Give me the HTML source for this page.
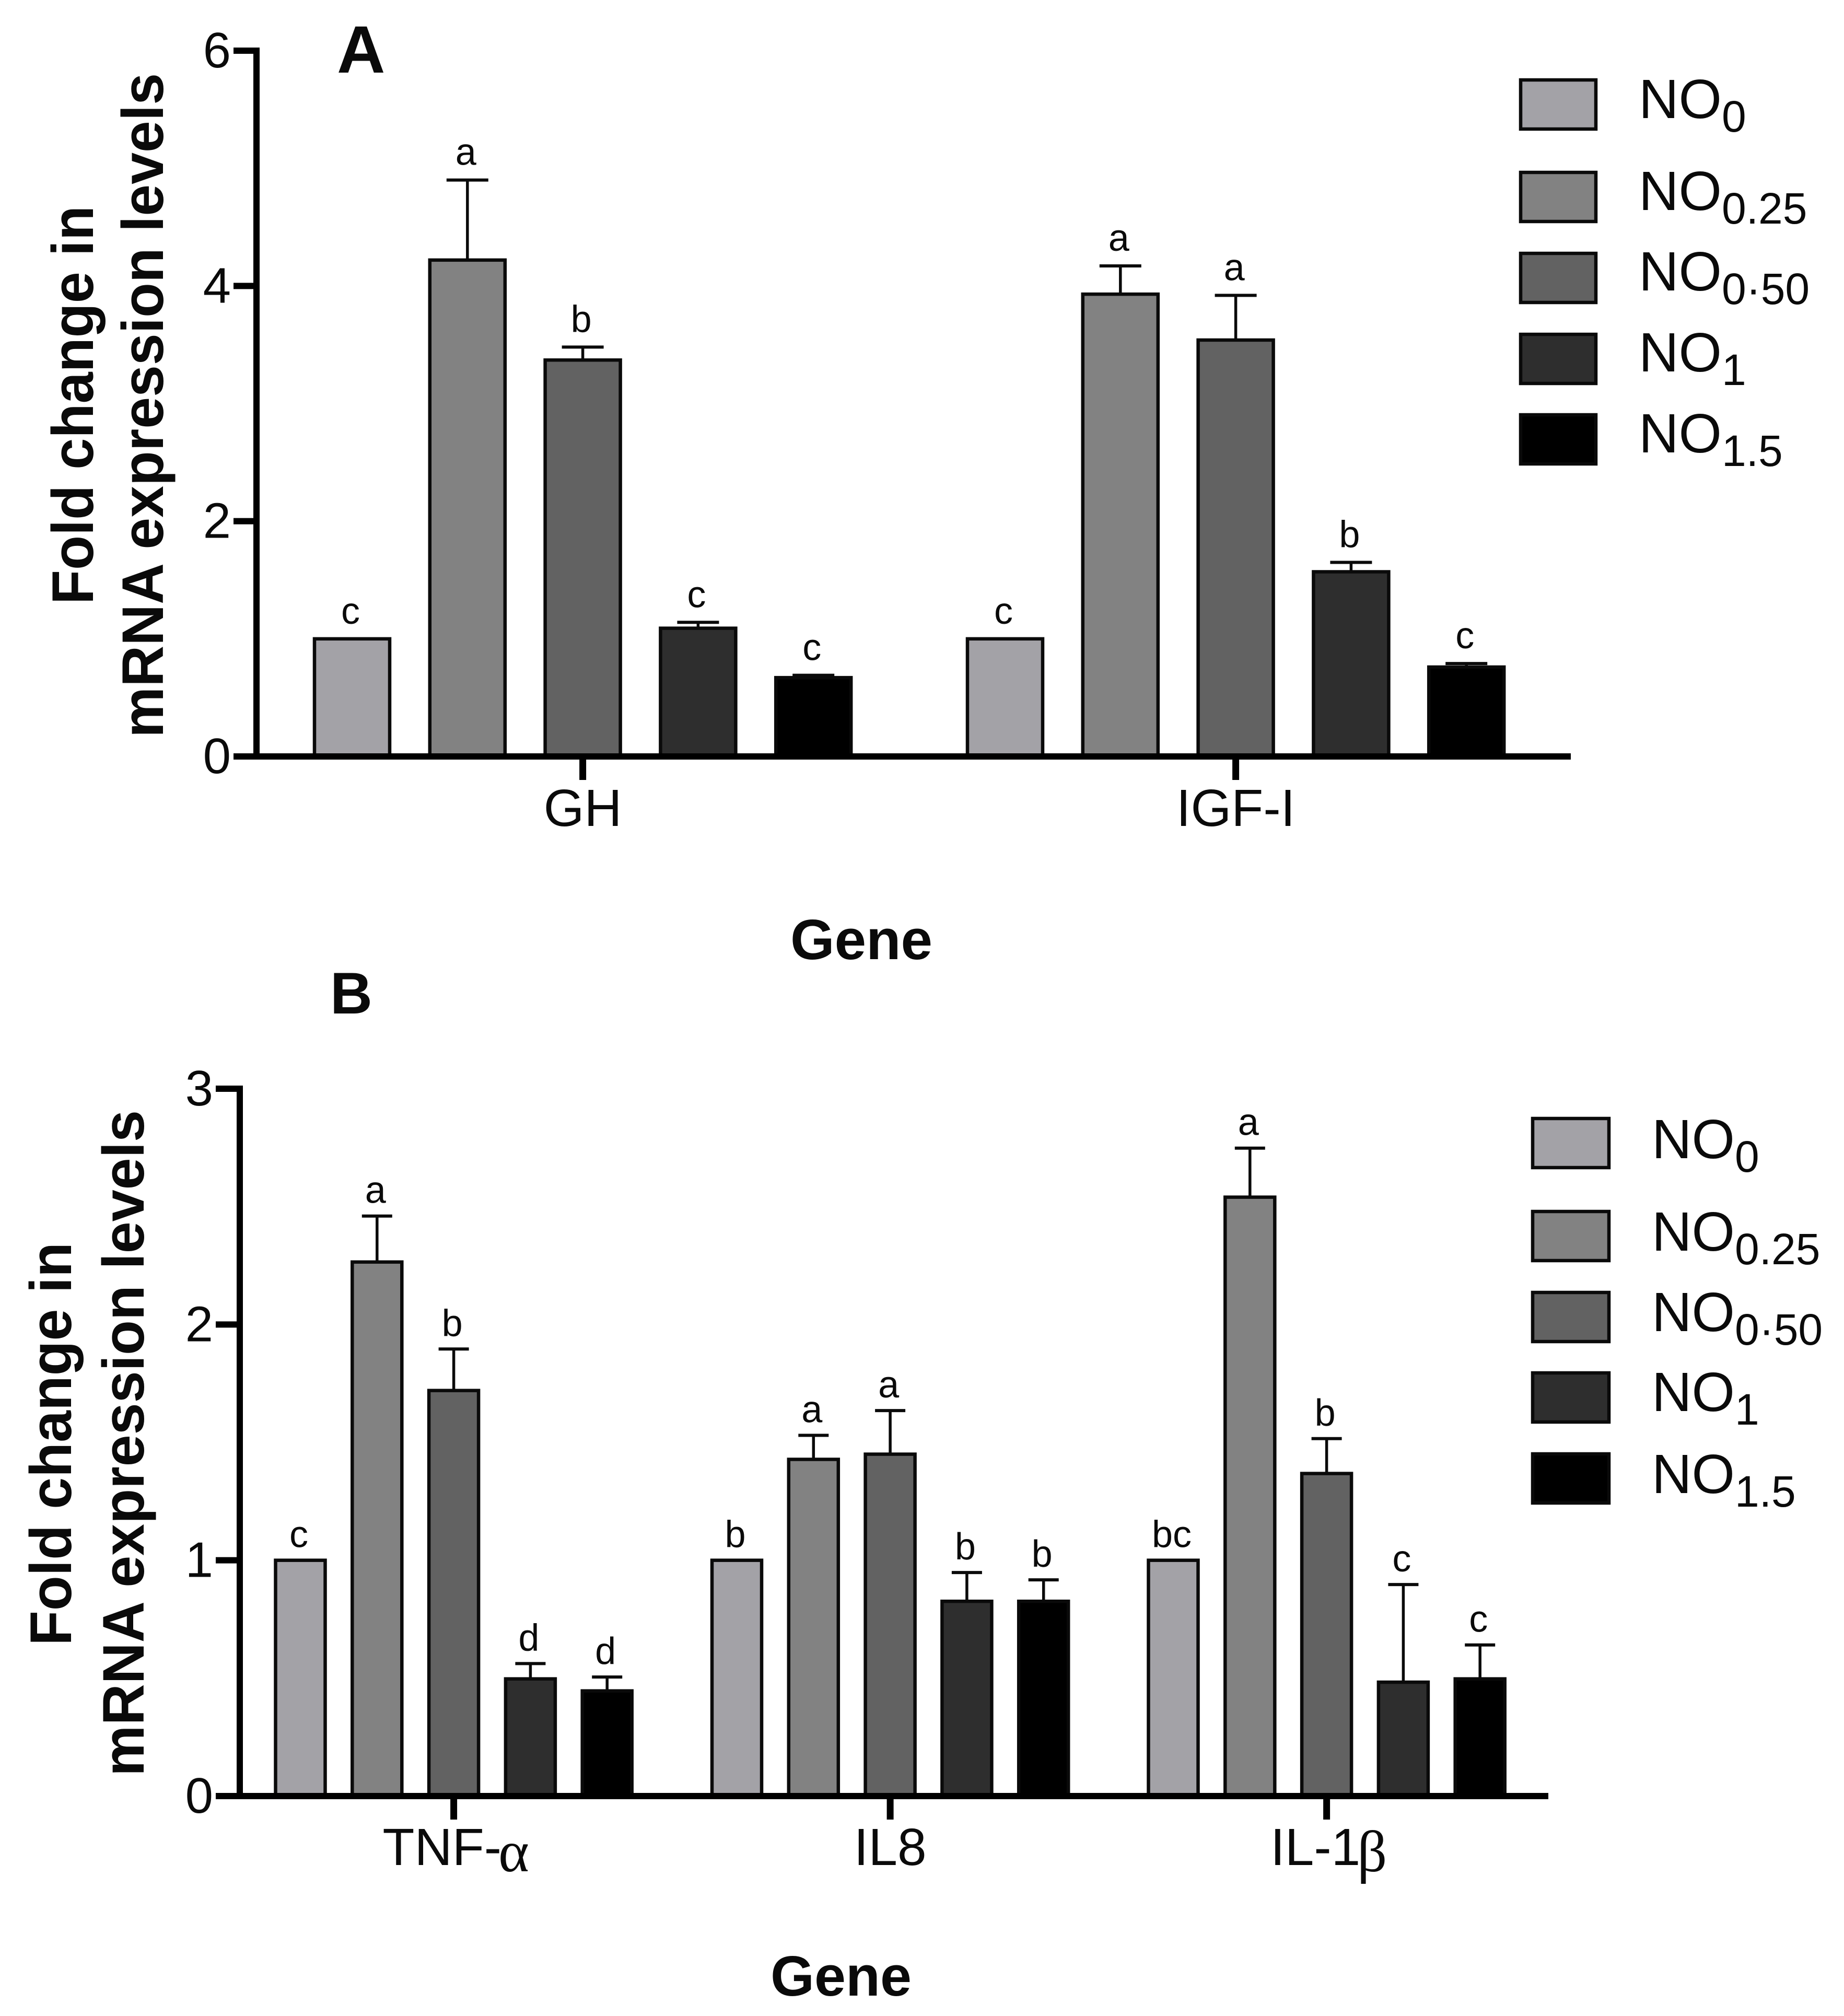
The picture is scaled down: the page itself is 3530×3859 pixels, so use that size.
<!DOCTYPE html>
<html lang="en">
<head>
<meta charset="utf-8">
<title>Fold change in mRNA expression levels</title>
<style>
html,body{margin:0;padding:0;background:#fff;width:3530px;height:3859px;overflow:hidden}
svg{display:block}
text{font-family:"Liberation Sans",Arial,sans-serif;fill:#0a0a0a}
</style>
</head>
<body>
<svg id="chart" xmlns="http://www.w3.org/2000/svg" width="3530" height="3859" viewBox="0 0 3530 3859">
  <rect width="3530" height="3859" fill="#fff"/>
  <text x="645" y="139" font-size="128" font-weight="700">A</text>
  <text x="632" y="1940" font-size="112" font-weight="700">B</text>
  <text transform="translate(178 1157) rotate(-90)" font-size="112" font-weight="700" textLength="763" lengthAdjust="spacingAndGlyphs">Fold change in</text>
  <text transform="translate(312 1412) rotate(-90)" font-size="112" font-weight="700" textLength="1272" lengthAdjust="spacingAndGlyphs">mRNA expression levels</text>
  <text transform="translate(136 3150) rotate(-90)" font-size="112" font-weight="700" textLength="772" lengthAdjust="spacingAndGlyphs">Fold change in</text>
  <text transform="translate(275 3400) rotate(-90)" font-size="112" font-weight="700" textLength="1275" lengthAdjust="spacingAndGlyphs">mRNA expression levels</text>
  <text x="1513" y="1836" font-size="109" font-weight="700" textLength="272" lengthAdjust="spacingAndGlyphs">Gene</text>
  <text x="1475" y="3820" font-size="109" font-weight="700" textLength="270" lengthAdjust="spacingAndGlyphs">Gene</text>
  <g id="plots"></g>
</svg>
<script>
// Shared series
const seriesFills = ['#a3a2a7', '#828282', '#626262', '#2e2e2e', '#000000'];
const seriesSubs = ['0', '0.25', '0·50', '1', '1.5'];

// Panel A data
const categoriesA = ['GH', 'IGF-I'];
const meansGH = [1, 4.22, 3.37, 1.09, 0.67];
const errorsGH = [0, 0.68, 0.11, 0.05, 0.02];
const lettersGH = ['c', 'a', 'b', 'c', 'c'];
const meansIGF = [1, 3.93, 3.54, 1.57, 0.76];
const errorsIGF = [0, 0.24, 0.38, 0.08, 0.03];
const lettersIGF = ['c', 'a', 'a', 'b', 'c'];
const yTicksA = [0, 2, 4, 6];

// Panel B data
const categoriesB = ['TNF-', 'IL8', 'IL-1'];
const categorySymbolsB = ['α', '', 'β'];
const meansTNF = [1, 2.265, 1.72, 0.497, 0.446];
const errorsTNF = [0, 0.195, 0.176, 0.065, 0.059];
const lettersTNF = ['c', 'a', 'b', 'd', 'd'];
const meansIL8 = [1, 1.428, 1.45, 0.826, 0.826];
const errorsIL8 = [0, 0.102, 0.185, 0.122, 0.091];
const lettersIL8 = ['b', 'a', 'a', 'b', 'b'];
const meansIL1 = [1, 2.54, 1.368, 0.483, 0.497];
const errorsIL1 = [0, 0.208, 0.148, 0.414, 0.144];
const lettersIL1 = ['bc', 'a', 'b', 'c', 'c'];
const yTicksB = [0, 1, 2, 3];

const NS = 'http://www.w3.org/2000/svg';
const root = document.getElementById('plots');

function mk(tag, attrs, parent, txt) {
  const el = document.createElementNS(NS, tag);
  for (const k in attrs) el.setAttribute(k, attrs[k]);
  if (txt !== undefined) el.textContent = txt;
  parent.appendChild(el);
  return el;
}

function drawPanel(p) {
  const g = mk('g', {}, root);
  
  

  const yMax = p.yTicks[p.yTicks.length - 1];
  const yScale = v => p.zeroY - (v / yMax) * (p.zeroY - p.topY);
  const xScale = (c, s) => p.firstX + c * p.groupStep + s * p.barStep;
  const groupX = c => xScale(c, 2);

  // bars, error bars, letters
  p.means.forEach((row, c) => {
    row.forEach((m, s) => {
      const cx = xScale(c, s);
      const top = yScale(m);
      const err = p.errors[c][s];
      if (err > 0) {
        const et = yScale(m + err);
        const stem = mk('line', {x1: cx, x2: cx, y1: top, y2: et, stroke: '#0a0a0a', 'stroke-width': 5.5}, g);
        
        
        const cap = mk('line', {x1: cx - p.capW / 2, x2: cx + p.capW / 2, y1: et, y2: et, stroke: '#0a0a0a', 'stroke-width': 6}, g);
        
        
      }
      const bar = mk('rect', {
        x: cx - p.barW / 2 + 3, y: top,
        width: p.barW - 6, height: p.zeroY - top,
        fill: seriesFills[s], stroke: '#0a0a0a', 'stroke-width': 6.5
      }, g);
      
      
      const lab = mk('text', {
        x: cx - 3, y: yScale(m + err) - p.letterGap,
        'font-size': p.letterSize, 'text-anchor': 'middle'
      }, g, p.letters[c][s]);
      
      
    });
  });

  // y axis
  const yAxis = mk('line', {x1: p.axisX, x2: p.axisX, y1: yScale(yMax) - 6, y2: p.zeroY + 6, stroke: '#000', 'stroke-width': p.axisW}, g);
  
  
  p.yTicks.forEach(t => {
    const tick = mk('line', {x1: p.tickLeft, x2: p.axisX, y1: yScale(t), y2: yScale(t), stroke: '#000', 'stroke-width': 12}, g);
    
    
    const lab = mk('text', {x: p.tickLeft - 5, y: yScale(t) + 32, 'font-size': 96, 'text-anchor': 'end'}, g, t);
    
    
  });

  // x axis
  const xAxis = mk('line', {x1: p.tickLeft, x2: p.axisEnd, y1: p.zeroY, y2: p.zeroY, stroke: '#000', 'stroke-width': p.axisW}, g);
  
  
  p.categories.forEach((name, c) => {
    const tick = mk('line', {x1: groupX(c), x2: groupX(c), y1: p.zeroY, y2: p.zeroY + 45, stroke: '#000', 'stroke-width': 13}, g);
    
    
    const hasSymbol = p.symbols && p.symbols[c];
    const lab = mk('text', {x: groupX(c) + (hasSymbol ? 4 : 0), y: p.labelY, 'font-size': 100, 'text-anchor': 'middle'}, g, name);
    
    
    if (hasSymbol) {
      mk('tspan', {'font-family': '"Liberation Serif","DejaVu Serif",serif', 'font-size': 112, dx: -6, dy: 12}, lab, p.symbols[c]);
    }
  });

  // legend
  p.legendTops.forEach((top, s) => {
    const sw = mk('rect', {
      x: p.legendX + 3, y: top + 3,
      width: p.legendW - 6, height: p.legendH - 6,
      fill: seriesFills[s], stroke: '#0a0a0a', 'stroke-width': 6.5
    }, g);
    
    
    const t = mk('text', {x: p.legendTextX, y: p.legendBase[s], 'font-size': 106}, g, 'NO');
    
    
    mk('tspan', {'font-size': 84, dy: 26}, t, seriesSubs[s]);
  });
}

drawPanel({
  id: 'a', categories: categoriesA,
  means: [meansGH, meansIGF], errors: [errorsGH, errorsIGF], letters: [lettersGH, lettersIGF],
  yTicks: yTicksA, zeroY: 1448, topY: 97, axisX: 491, axisW: 12, tickLeft: 447, axisEnd: 3007,
  firstX: 674, groupStep: 1250, barStep: 220.8, barW: 150, capW: 80, letterGap: 29, letterSize: 72, labelY: 1581,
  legendX: 2908, legendW: 150, legendH: 100, legendTextX: 3137,
  legendTops: [150, 327, 482, 637, 791], legendBase: [226, 402, 556, 711, 866]
});
drawPanel({
  id: 'b', categories: categoriesB, symbols: categorySymbolsB,
  means: [meansTNF, meansIL8, meansIL1], errors: [errorsTNF, errorsIL8, errorsIL1], letters: [lettersTNF, lettersIL8, lettersIL1],
  yTicks: yTicksB, zeroY: 3438, topY: 2084, axisX: 459, axisW: 12, tickLeft: 413, axisEnd: 2964,
  firstX: 575, groupStep: 835.5, barStep: 146.8, barW: 101, capW: 58, letterGap: 25, letterSize: 72, labelY: 3570,
  legendX: 2931, legendW: 152, legendH: 100, legendTextX: 3162,
  legendTops: [2138, 2316, 2471, 2625, 2780], legendBase: [2217, 2394, 2548, 2701, 2858]
});
</script>
</body>
</html>
